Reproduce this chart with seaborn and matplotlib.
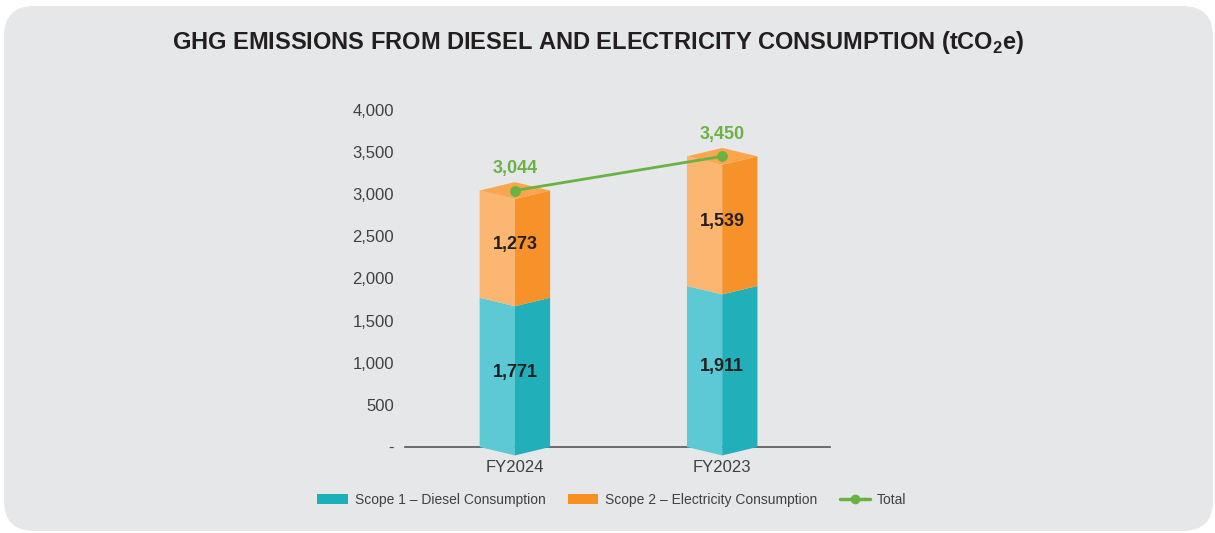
import matplotlib
matplotlib.use("Agg")
import matplotlib.pyplot as plt
import seaborn as sns
from matplotlib.patches import Polygon, FancyBboxPatch, Patch
from matplotlib.lines import Line2D

# Data
years = ["FY2024", "FY2023"]
scope1 = [1771, 1911]
scope2 = [1273, 1539]
totals = [3044, 3450]
yticks = [0, 500, 1000, 1500, 2000, 2500, 3000, 3500, 4000]
ytick_labels = ["-", "500", "1,000", "1,500", "2,000", "2,500", "3,000", "3,500", "4,000"]

# Colours
bg = "#E6E7E9"
teal_l, teal_r = "#5CC9D5", "#21AFBA"
orange_l, orange_r, orange_top = "#FBB771", "#F7922A", "#F9A64F"
green = "#6BB244"
dark = "#231F20"

sns.set_theme(style="white")
plt.rcParams["font.family"] = ["Liberation Sans", "DejaVu Sans"]
plt.rcParams["mathtext.fontset"] = "custom"
plt.rcParams["mathtext.rm"] = "Liberation Sans"
plt.rcParams["mathtext.bf"] = "Liberation Sans:bold"

W, H = 1215, 533
fig = plt.figure(figsize=(W / 100, H / 100), dpi=100)
fig.patch.set_facecolor("white")

# rounded grey panel
panel = FancyBboxPatch((4 / W, 2 / H), 1209 / W, 525 / H,
                       boxstyle="round,pad=0,rounding_size=0.025",
                       mutation_aspect=W / H, transform=fig.transFigure,
                       facecolor=bg, edgecolor="none", zorder=-5)
fig.patches.append(panel)

ax = fig.add_axes([405 / W, (H - 447) / H, 425 / W, 337 / H])
ax.set_facecolor("none")
ax.set_zorder(2)

# stacked bars via seaborn, then reshaped into prisms
sns.barplot(x=years, y=scope1, ax=ax, width=0.34, color=teal_l)
sns.barplot(x=years, y=scope2, ax=ax, width=0.34, color=orange_l, bottom=scope1)

d = 100  # depth of the front edge in data units
bars = list(ax.patches)
for i, p in enumerate(bars):
    x0, w = p.get_x(), p.get_width()
    y0, y1 = p.get_y(), p.get_y() + p.get_height()
    xc, x1 = x0 + w / 2, x0 + w
    is_top = i >= len(years)
    cl, cr = (orange_l, orange_r) if is_top else (teal_l, teal_r)
    ax.add_patch(Polygon([(x0, y0), (xc, y0 - d), (xc, y1 - d), (x0, y1)],
                         closed=True, facecolor=cl, edgecolor="none", clip_on=False, zorder=2))
    ax.add_patch(Polygon([(xc, y0 - d), (x1, y0), (x1, y1), (xc, y1 - d)],
                         closed=True, facecolor=cr, edgecolor="none", clip_on=False, zorder=2))
    if is_top:
        ax.add_patch(Polygon([(x0, y1), (xc, y1 - d), (x1, y1), (xc, y1 + d)],
                             closed=True, facecolor=orange_top, edgecolor="none", clip_on=False, zorder=2))
    p.set_visible(False)
    ax.text(xc, (y0 + y1) / 2, f"{p.get_height():,.0f}", ha="center", va="center",
            fontsize=13, fontweight="bold", color=dark, zorder=5)

# total line
sns.lineplot(x=years, y=totals, ax=ax, color=green, marker="o", markersize=7,
             markeredgecolor=green, linewidth=2, sort=False, zorder=4)
for x, t in zip(range(len(years)), totals):
    ax.annotate(f"{t:,}", (x, t), xytext=(0, 16), textcoords="offset points",
                ha="center", va="center", fontsize=13, fontweight="bold", color=green)

ax.set_xlim(-0.53, 1.52)
ax.set_ylim(0, 4000)
ax.set_yticks(yticks)
ax.set_yticklabels(ytick_labels)
ax.tick_params(axis="y", length=0, pad=8, labelsize=12, labelcolor="#404040")
ax.tick_params(axis="x", length=0, pad=9, labelsize=12, labelcolor="#404040")
for s in ["top", "right", "left"]:
    ax.spines[s].set_visible(False)
ax.spines["bottom"].set_color("#555555")
ax.spines["bottom"].set_linewidth(1.2)
ax.spines["bottom"].set_zorder(1)
ax.set_xlabel("")
ax.set_ylabel("")

fig.text(598 / W, 1 - 42 / H,
         r"GHG EMISSIONS FROM DIESEL AND ELECTRICITY CONSUMPTION (tCO$_\mathbf{2}$e)",
         ha="center", va="center", fontsize=17, fontweight="bold", color=dark)

handles = [Patch(facecolor="#1AAFB9", edgecolor="none"), Patch(facecolor="#F7901E", edgecolor="none"),
           Line2D([0], [0], color=green, lw=2.5, marker="o", markersize=6)]
labels = ["Scope 1 \u2013 Diesel Consumption", "Scope 2 \u2013 Electricity Consumption", "Total"]
fig.legend(handles, labels, loc="center", bbox_to_anchor=(612 / W, 1 - 500 / H), ncol=3,
           frameon=False, fontsize=10, handlelength=2.2, handleheight=0.7,
           columnspacing=1.6, handletextpad=0.5, labelcolor="#404040")

fig.savefig("out.png", dpi=100, facecolor=fig.get_facecolor())
